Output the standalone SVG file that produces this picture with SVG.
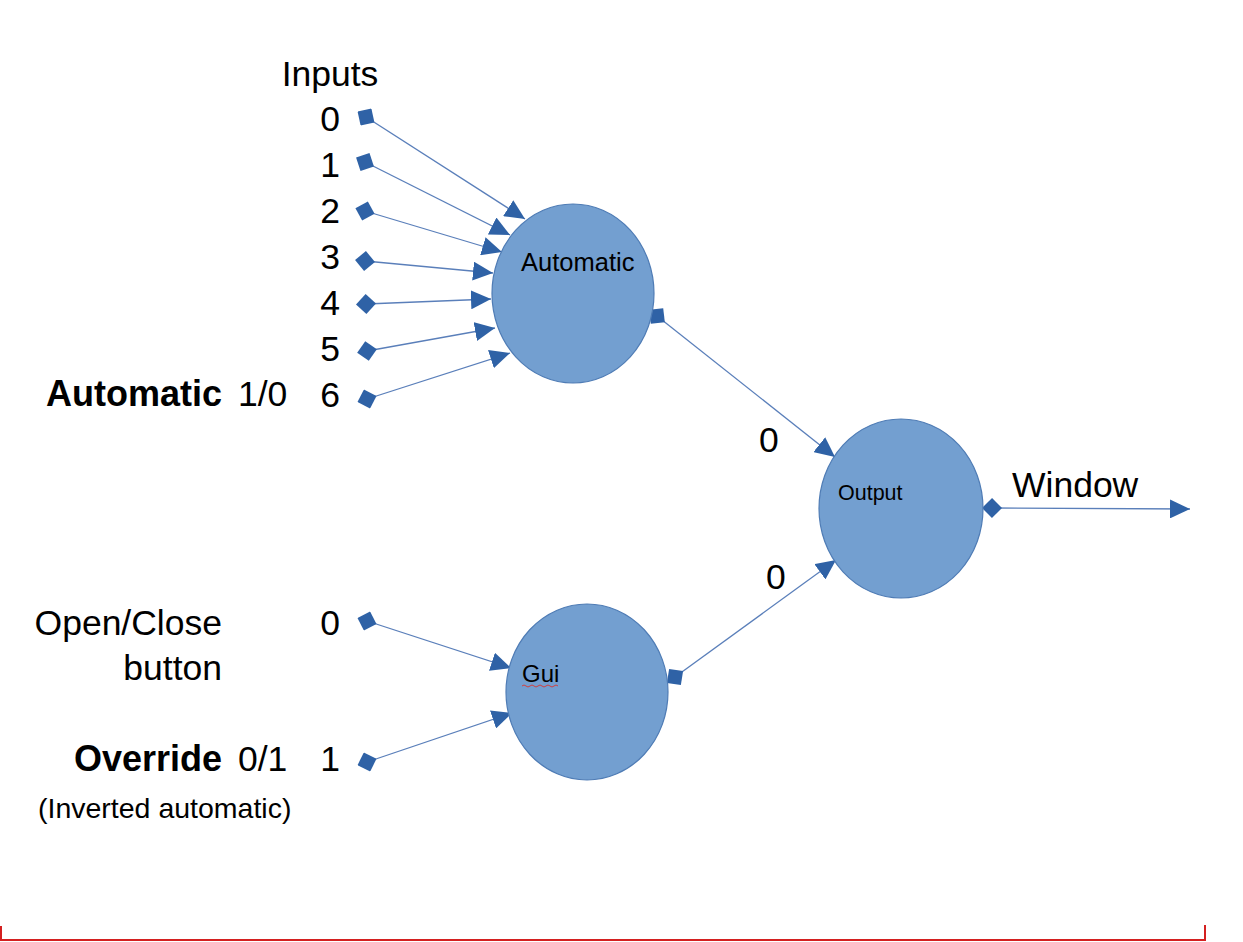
<svg xmlns="http://www.w3.org/2000/svg" width="1243" height="942" viewBox="0 0 1243 942">
<style>
.lbl{font-family:"Liberation Sans",Arial,sans-serif;fill:#000;font-size:35.5px}
.b{font-weight:bold}
.node{fill:#739fd0;stroke:#4f7cb5;stroke-width:1.2}
.nt{font-family:"Liberation Sans",Arial,sans-serif;fill:#000}
.edge{stroke:#5a7fba;stroke-width:1.3;fill:none;marker-start:url(#dia);marker-end:url(#arr)}
</style>
<defs>
<marker id="arr" markerUnits="userSpaceOnUse" markerWidth="21" markerHeight="19" refX="20" refY="9.5" orient="auto" viewBox="0 0 21 19">
<path d="M0,0 L20,9.5 L0,19 z" fill="#2f62a6"/>
</marker>
<marker id="dia" markerUnits="userSpaceOnUse" markerWidth="20" markerHeight="20" refX="10" refY="10" orient="auto" viewBox="0 0 20 20">
<path d="M0,10 L10,0 L20,10 L10,20 z" fill="#2f62a6"/>
</marker>
</defs>
<rect width="1243" height="942" fill="#fff"/>
<g id="labels">
<text class="lbl" x="330" y="86" text-anchor="middle">Inputs</text>
<text class="lbl" x="340" y="131" text-anchor="end">0</text>
<text class="lbl" x="340" y="177" text-anchor="end">1</text>
<text class="lbl" x="340" y="223" text-anchor="end">2</text>
<text class="lbl" x="340" y="269" text-anchor="end">3</text>
<text class="lbl" x="340" y="315" text-anchor="end">4</text>
<text class="lbl" x="340" y="361" text-anchor="end">5</text>
<text class="lbl" x="340" y="407" text-anchor="end">6</text>
<text class="lbl b" x="222" y="406" text-anchor="end" style="font-size:36px">Automatic</text>
<text class="lbl" x="238" y="406">1/0</text>
<text class="lbl" x="222" y="635" text-anchor="end">Open/Close</text>
<text class="lbl" x="222" y="680" text-anchor="end">button</text>
<text class="lbl" x="340" y="635" text-anchor="end">0</text>
<text class="lbl b" x="222" y="771" text-anchor="end" style="font-size:36px">Override</text>
<text class="lbl" x="238" y="771">0/1</text>
<text class="lbl" x="340" y="771" text-anchor="end">1</text>
<text class="lbl" x="38" y="818" style="font-size:28.5px">(Inverted automatic)</text>
<text class="lbl" x="759" y="452">0</text>
<text class="lbl" x="766" y="589">0</text>
<text class="lbl" x="1012" y="497">Window</text>
</g>
<g id="connectors">
<line class="edge" x1="366" y1="117" x2="525" y2="219"/>
<line class="edge" x1="365" y1="162" x2="510" y2="235"/>
<line class="edge" x1="365" y1="211" x2="502" y2="252"/>
<line class="edge" x1="365" y1="261" x2="493" y2="273"/>
<line class="edge" x1="366" y1="304" x2="491" y2="299"/>
<line class="edge" x1="367" y1="351" x2="495" y2="328"/>
<line class="edge" x1="367" y1="399" x2="510" y2="353"/>
<line class="edge" x1="657" y1="316" x2="835" y2="457"/>
<line class="edge" x1="367" y1="621" x2="511" y2="668"/>
<line class="edge" x1="367" y1="762" x2="512" y2="713"/>
<line class="edge" x1="675" y1="677" x2="836" y2="560"/>
<line class="edge" x1="992" y1="508" x2="1190" y2="509"/>
</g>
<g id="node-automatic">
<ellipse class="node" cx="573" cy="293.5" rx="81" ry="89.5"/>
<text class="nt" x="521" y="271" font-size="25.5">Automatic</text>
</g>
<g id="node-output">
<ellipse class="node" cx="901" cy="508.5" rx="82" ry="89.5"/>
<text class="nt" x="838" y="500" font-size="21.5">Output</text>
</g>
<g id="node-gui">
<ellipse class="node" cx="587" cy="692" rx="81" ry="88"/>
<text class="nt" x="522" y="682" font-size="24">Gui</text>
<path d="M522,686 q2,-2 4,0 t4,0 t4,0 t4,0 t4,0 t4,0 t4,0 t4,0 t4,0" stroke="#d04040" stroke-width="1" fill="none"/>
</g>
<g id="frame">
<path d="M1,926 L1,940 L1205,940 L1205,925" stroke="#d42020" stroke-width="2" fill="none"/>
</g>
</svg>
